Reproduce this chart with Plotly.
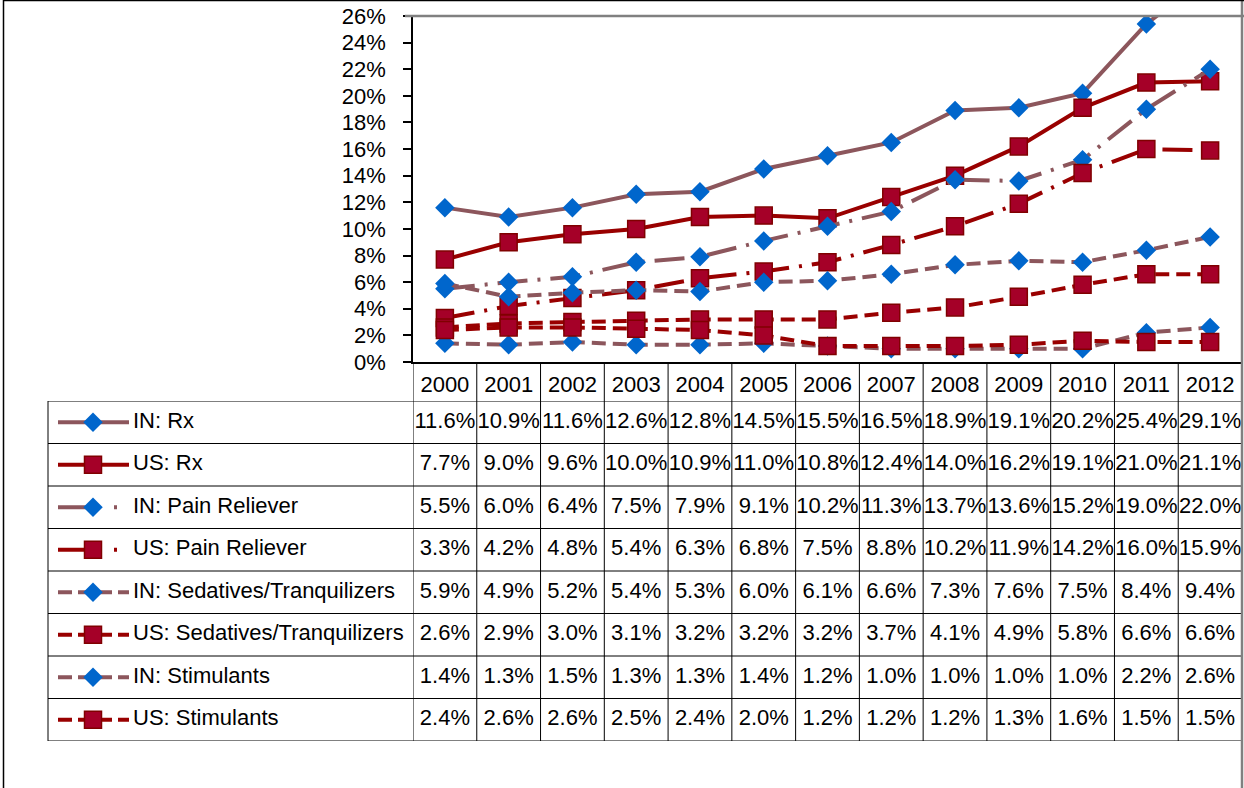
import plotly.graph_objects as go

# anos e series (em %)
anos = ["2000", "2001", "2002", "2003", "2004", "2005", "2006",
        "2007", "2008", "2009", "2010", "2011", "2012"]

in_rx = [11.6, 10.9, 11.6, 12.6, 12.8, 14.5, 15.5, 16.5, 18.9, 19.1, 20.2, 25.4, 29.1]
us_rx = [7.7, 9.0, 9.6, 10.0, 10.9, 11.0, 10.8, 12.4, 14.0, 16.2, 19.1, 21.0, 21.1]
in_pain = [5.5, 6.0, 6.4, 7.5, 7.9, 9.1, 10.2, 11.3, 13.7, 13.6, 15.2, 19.0, 22.0]
us_pain = [3.3, 4.2, 4.8, 5.4, 6.3, 6.8, 7.5, 8.8, 10.2, 11.9, 14.2, 16.0, 15.9]
in_sed = [5.9, 4.9, 5.2, 5.4, 5.3, 6.0, 6.1, 6.6, 7.3, 7.6, 7.5, 8.4, 9.4]
us_sed = [2.6, 2.9, 3.0, 3.1, 3.2, 3.2, 3.2, 3.7, 4.1, 4.9, 5.8, 6.6, 6.6]
in_stim = [1.4, 1.3, 1.5, 1.3, 1.3, 1.4, 1.2, 1.0, 1.0, 1.0, 1.0, 2.2, 2.6]
us_stim = [2.4, 2.6, 2.6, 2.5, 2.4, 2.0, 1.2, 1.2, 1.2, 1.3, 1.6, 1.5, 1.5]

nomes = ["IN: Rx", "US: Rx", "IN: Pain Reliever", "US: Pain Reliever",
         "IN: Sedatives/Tranquilizers", "US: Sedatives/Tranquilizers",
         "IN: Stimulants", "US: Stimulants"]
series = [in_rx, us_rx, in_pain, us_pain, in_sed, us_sed, in_stim, us_stim]

W, H = 1244, 788
MAUVE = "rgb(140,86,92)"
DRED = "rgb(153,0,0)"
BLUE = "#0066CC"
SQ_FILL = "rgb(165,0,40)"
FONT = "Liberation Sans, Arial, sans-serif"

def px_x(p):
    return p / W

def px_y(p):
    return 1 - p / H

estilos = []
for i in range(8):
    pais_in = (i % 2 == 0)
    if i < 2:
        dash, dash_key, width = "solid", "solid", 4
    elif i < 4:
        dash, dash_key, width = "30px,10px,3px,10px", "42px,14px,3px,14px", 4
    else:
        dash, dash_key, width = "14px,7px", "14px,6px", 4
    if pais_in:
        estilos.append(dict(color=MAUVE, dash=dash, dash_key=dash_key, width=width,
                            marker=dict(symbol="diamond", size=15, color=BLUE,
                                        line=dict(color=BLUE, width=0))))
    else:
        estilos.append(dict(color=DRED, dash=dash, dash_key=dash_key, width=width,
                            marker=dict(symbol="square", size=17, color=SQ_FILL,
                                        line=dict(color="rgb(128,0,0)", width=1.5))))

fig = go.Figure()

# linhas do grafico
for nome, vals, est in zip(nomes, series, estilos):
    fig.add_trace(go.Scatter(
        x=anos, y=[v / 100 for v in vals], name=nome,
        mode="lines+markers",
        line=dict(color=est["color"], width=est["width"], dash=est["dash"]),
        marker=est["marker"],
        xaxis="x", yaxis="y", showlegend=False, hoverinfo="skip"
    ))

# tabela de dados
for i, vals in enumerate(series):
    fig.add_trace(go.Scatter(
        x=anos, y=[i] * len(anos), mode="text",
        text=[f"{v:.1f}%" for v in vals],
        textfont=dict(family=FONT, size=22, color="black"),
        xaxis="x", yaxis="y2", showlegend=False, hoverinfo="skip"
    ))

# chaves da legenda na tabela
for i, (nome, est) in enumerate(zip(nomes, estilos)):
    fig.add_trace(go.Scatter(
        x=[10, 81], y=[i, i], mode="lines",
        line=dict(color=est["color"], width=est["width"], dash=est["dash_key"]),
        xaxis="x3", yaxis="y2", showlegend=False, hoverinfo="skip"
    ))
    fig.add_trace(go.Scatter(
        x=[45], y=[i], mode="markers", marker=est["marker"],
        xaxis="x3", yaxis="y2", showlegend=False, hoverinfo="skip"
    ))
    fig.add_trace(go.Scatter(
        x=[85], y=[i], mode="text", text=[nome], textposition="middle right",
        textfont=dict(family=FONT, size=22, color="black"),
        xaxis="x3", yaxis="y2", showlegend=False, hoverinfo="skip"
    ))

shapes = []
# linhas horizontais da tabela
for k in range(9):
    shapes.append(dict(type="line", xref="paper", yref="y2",
                       x0=px_x(48), x1=px_x(1242), y0=k - 0.5, y1=k - 0.5,
                       line=dict(color="black", width=1)))
# linhas verticais da tabela
for k in range(len(anos) + 1):
    shapes.append(dict(type="line", xref="x", yref="paper",
                       x0=k - 0.5, x1=k - 0.5, y0=px_y(741), y1=px_y(362),
                       line=dict(color="black", width=1)))
shapes.append(dict(type="line", xref="paper", yref="y2",
                   x0=px_x(48), x1=px_x(48), y0=-0.5, y1=7.5,
                   line=dict(color="black", width=1)))
# bordas do grafico
shapes.append(dict(type="line", xref="paper", yref="paper",
                   x0=px_x(405), x1=1, y0=px_y(16), y1=px_y(16),
                   line=dict(color="#808080", width=2.5)))
shapes.append(dict(type="line", xref="paper", yref="paper",
                   x0=px_x(1242), x1=px_x(1242), y0=0, y1=1,
                   line=dict(color="#808080", width=2.5)))
shapes.append(dict(type="line", xref="paper", yref="paper",
                   x0=px_x(3.5), x1=px_x(3.5), y0=0, y1=1,
                   line=dict(color="black", width=1.5)))
shapes.append(dict(type="line", xref="paper", yref="paper",
                   x0=px_x(3), x1=1, y0=px_y(0.5), y1=px_y(0.5),
                   line=dict(color="black", width=1.5)))

fig.update_layout(
    width=W, height=H,
    margin=dict(l=0, r=0, t=0, b=0, pad=0, autoexpand=False),
    paper_bgcolor="white", plot_bgcolor="white",
    font=dict(family=FONT, size=22, color="black"),
    showlegend=False,
    xaxis=dict(
        domain=[px_x(413), px_x(1242)], type="category",
        range=[-0.5, 12.5], anchor="y", automargin=False,
        showline=True, linecolor="black", linewidth=1.5,
        ticks="", showgrid=False, zeroline=False,
        tickfont=dict(family=FONT, size=22, color="black"),
        ticklabelstandoff=2,
    ),
    yaxis=dict(
        domain=[px_y(362), px_y(16)], range=[0, 0.26],
        dtick=0.02, tickformat=".0%", anchor="x", automargin=False,
        showline=True, linecolor="black", linewidth=1.5,
        ticks="outside", ticklen=8, tickcolor="black", tickwidth=1.5,
        showgrid=False, zeroline=False,
        tickfont=dict(family=FONT, size=22, color="black"),
        ticklabelstandoff=13,
    ),
    yaxis2=dict(
        domain=[px_y(741), px_y(401)], range=[7.5, -0.5],
        anchor="x", visible=False, automargin=False,
    ),
    xaxis3=dict(
        domain=[px_x(48), px_x(413)], range=[0, 365],
        anchor="y2", visible=False, automargin=False,
    ),
    shapes=shapes,
)

fig.write_html("out.html", config={"displayModeBar": False},
               post_script="document.body.style.margin='0px';")
